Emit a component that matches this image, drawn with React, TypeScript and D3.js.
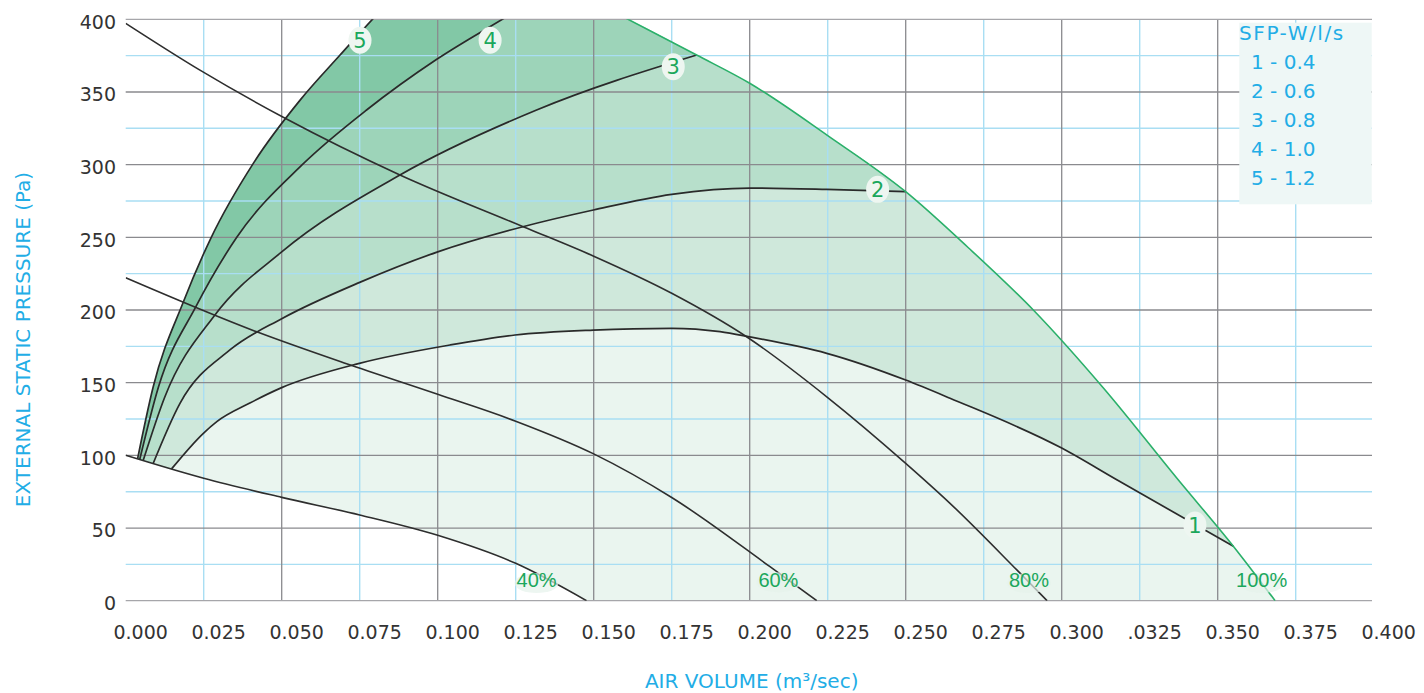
import React from "react";
import * as d3 from "d3";

type P = [number, number];

// ---- axes / ticks ----
const xGridMajor = [0.05, 0.1, 0.15, 0.2, 0.25, 0.3, 0.35];
const xGridMinor = [0.025, 0.075, 0.125, 0.175, 0.225, 0.275, 0.325, 0.375];
const xTickValues = [0, 0.025, 0.05, 0.075, 0.1, 0.125, 0.15, 0.175, 0.2, 0.225, 0.25, 0.275, 0.3, 0.325, 0.35, 0.375, 0.4];
const xTickLabels = ["0.000", "0.025", "0.050", "0.075", "0.100", "0.125", "0.150", "0.175", "0.200", "0.225", "0.250", "0.275", "0.300", ".0325", "0.350", "0.375", "0.400"];
const yGridMajor = [0, 50, 100, 150, 200, 250, 300, 350, 400];
const yGridMinor = [25, 75, 125, 175, 225, 275, 325, 375];
const yTickLabels = ["0", "50", "100", "150", "200", "250", "300", "350", "400"];

const legendTitle = "SFP-W/l/s";
const legendItems = ["1 - 0.4", "2 - 0.6", "3 - 0.8", "4 - 1.0", "5 - 1.2"];

// ---- fan speed curves (x: m3/s, y: Pa) ----
const speed40: P[] = [[0, 100], [0.025, 84.2], [0.05, 71.1], [0.075, 59], [0.1, 45], [0.125, 25.7], [0.1477, 0]];
const speed60: P[] = [[0, 222.2], [0.042, 185], [0.0708, 163], [0.1, 142], [0.125, 123.5], [0.15, 101], [0.175, 71], [0.2065, 23.4], [0.2215, 0]];
const speed80: P[] = [[0, 397.2], [0.0238, 365], [0.0511, 331.9], [0.0879, 292.9], [0.1274, 257.3], [0.15, 237], [0.175, 211.5], [0.199, 181.6], [0.2247, 140.3], [0.25, 94.5], [0.2642, 67], [0.2857, 21], [0.2953, 0]];
const speed100: P[] = [[0.12, 445], [0.161, 400], [0.183, 375.4], [0.2, 356], [0.225, 320], [0.25, 281.4], [0.27, 243], [0.2909, 200], [0.3135, 146], [0.3374, 83], [0.355, 37.5], [0.3684, 0]];

// ---- SFP curves ----
const sfp5: P[] = [[0.0038, 97.6], [0.0088, 147], [0.0185, 205.7], [0.0272, 249], [0.0409, 300.9], [0.0559, 344.4], [0.0687, 375.4], [0.0794, 400.7], [0.088, 420]];
const sfp4: P[] = [[0.0045, 97.1], [0.0105, 147], [0.0225, 202.3], [0.0356, 250], [0.0566, 300], [0.0772, 337.6], [0.0997, 372.5], [0.1221, 401.8], [0.136, 420]];
const sfp3: P[] = [[0.0056, 96.4], [0.0125, 140], [0.0286, 196.6], [0.05, 240], [0.0879, 292.9], [0.1317, 337.6], [0.183, 375.4]];
const sfp2: P[] = [[0.0088, 94.4], [0.0174, 135.8], [0.0334, 172.5], [0.05, 194], [0.075, 219], [0.1, 240], [0.1273, 257.3], [0.1499, 268.8], [0.175, 279.6], [0.2, 283.9], [0.2247, 283], [0.25, 281.4]];
const sfp1: P[] = [[0.0147, 90.7], [0.0249, 115.2], [0.0292, 123.2], [0.0398, 136], [0.05, 146.6], [0.0749, 163.3], [0.1039, 175.9], [0.1248, 182.8], [0.1499, 186.2], [0.175, 187.4], [0.1905, 185.1], [0.2, 181.5], [0.2247, 170.2], [0.25, 151.8], [0.2642, 139.3], [0.3, 105], [0.3178, 83], [0.355, 37.5]];

const sfpCurves = [sfp5, sfp4, sfp3, sfp2, sfp1];
const bandColors = ["#82c8a6", "#9dd4b9", "#b7dfcb", "#cfe8db", "#eaf5ef"];

const sfpLabelText = ["5", "4", "3", "2", "1"];
const sfpLabelX = [0.0751, 0.1168, 0.1755, 0.241, 0.3427];
const sfpLabelY = [385.6, 385.6, 367.4, 283, 52.1];

const pctLabelText = ["40%", "60%", "80%", "100%"];
const pctLabelX = [0.1317, 0.2092, 0.2895, 0.3641];
const pctLabelY = [14.2, 14.7, 14.2, 14.2];

const W = 1424;
const H = 693;

export default function App() {
  const x = d3.scaleLinear().domain([0, 0.4]).range([125.7, 1373.7]);
  const y = d3.scaleLinear().domain([0, 400]).range([600.7, 19.3]);
  const line = d3
    .line<P>()
    .x((d) => x(d[0]))
    .y((d) => y(d[1]))
    .curve(d3.curveMonotoneX);

  const cont = (pts: P[]) => (line(pts) || "").replace(/^M/, "L");

  const bandPath = (curve: P[]) => {
    const start = curve[0];
    const end = curve[curve.length - 1];
    const bPart: P[] = [end, ...speed100.filter((p) => p[0] > end[0])];
    const lowPart: P[] = [...speed40.filter((p) => p[0] > start[0])].reverse();
    lowPart.push(start);
    return (line(curve) || "") + cont(bPart) + cont(lowPart) + "Z";
  };

  const gridRight = 1372;
  const font = "'DejaVu Sans', 'Liberation Sans', sans-serif";
  const blue = "#22ade6";
  const green = "#1ba75c";

  return (
    <svg
      width={W}
      height={H}
      style={{ position: "absolute", left: 0, top: 0, display: "block", background: "#fff" }}
    >
      <defs>
        <clipPath id="plotClip">
          <rect x={x(0)} y={y(400)} width={x(0.4) - x(0)} height={y(0) - y(400)} />
        </clipPath>
      </defs>

      {/* filled bands */}
      <g clipPath="url(#plotClip)">
        {sfpCurves.map((c, i) => (
          <path key={"band" + i} d={bandPath(c)} fill={bandColors[i]} stroke="none" />
        ))}
      </g>

      {/* grid */}
      <g>
        {yGridMinor.map((v) => (
          <line key={"hm" + v} x1={x(0)} x2={gridRight} y1={y(v)} y2={y(v)} stroke="#a9def3" strokeWidth={1.4} />
        ))}
        {xGridMinor.map((v) => (
          <line key={"vm" + v} x1={x(v)} x2={x(v)} y1={y(0)} y2={y(400)} stroke="#a9def3" strokeWidth={1.4} />
        ))}
        {xGridMajor.map((v) => (
          <line key={"vM" + v} x1={x(v)} x2={x(v)} y1={y(0)} y2={y(400)} stroke="#8a8a8e" strokeWidth={1.3} />
        ))}
        {yGridMajor.map((v) => (
          <line key={"hM" + v} x1={x(0)} x2={gridRight} y1={y(v)} y2={y(v)} stroke={v === 400 || v === 0 ? "#a6a6aa" : "#8a8a8e"} strokeWidth={1.3} />
        ))}
      </g>

      {/* curves */}
      <g clipPath="url(#plotClip)" fill="none">
        {[speed40, speed60, speed80].map((c, i) => (
          <path key={"sp" + i} d={line(c) || ""} stroke="#2e2e2e" strokeWidth={1.6} />
        ))}
        {sfpCurves.map((c, i) => (
          <path key={"sfp" + i} d={line(c) || ""} stroke="#2a2a2a" strokeWidth={1.7} />
        ))}
        <path d={line(speed100) || ""} stroke="#2bb06a" strokeWidth={1.6} />
      </g>

      {/* curve labels */}
      <g fontFamily={font}>
        {sfpLabelText.map((t, i) => (
          <g key={"sl" + i}>
            <ellipse cx={x(sfpLabelX[i])} cy={y(sfpLabelY[i])} rx={11.5} ry={13.5} fill="#eef6f1" />
            <text
              x={x(sfpLabelX[i])}
              y={y(sfpLabelY[i]) + 7.6}
              textAnchor="middle"
              fontSize={21}
              fill={green}
            >
              {t}
            </text>
          </g>
        ))}
        {pctLabelText.map((t, i) => (
          <g key={"pl" + i}>
            <ellipse cx={x(pctLabelX[i])} cy={y(pctLabelY[i]) + 3} rx={22} ry={10} fill="#e6f2eb" opacity={0.7} />
            <text
              x={x(pctLabelX[i])}
              y={y(pctLabelY[i]) + 7.3}
              textAnchor="middle"
              fontSize={20}
              fontFamily="'Liberation Sans', sans-serif"
              fill={green}
            >
              {t}
            </text>
          </g>
        ))}
      </g>

      {/* legend */}
      <g fontFamily={font} fill={blue}>
        <rect x={1239.3} y={22.7} width={132.4} height={181.6} fill="#eef7f6" />
        <text x={1239} y={40} fontSize={20} letterSpacing={1.6}>
          {legendTitle}
        </text>
        {legendItems.map((t, i) => (
          <text key={"lg" + i} x={1251} y={68.5 + i * 29} fontSize={20}>
            {t}
          </text>
        ))}
      </g>

      {/* tick labels */}
      <g fontFamily={font} fontSize={19} fill="#333">
        {yGridMajor.map((v, i) => (
          <text key={"yl" + v} x={116} y={y(v) + 9.3} textAnchor="end">
            {yTickLabels[i]}
          </text>
        ))}
        {xTickValues.map((v, i) => (
          <text key={"xl" + i} x={x(v) + 15} y={639} textAnchor="middle">
            {xTickLabels[i]}
          </text>
        ))}
      </g>

      {/* axis titles */}
      <text x={751.7} y={687.5} textAnchor="middle" fontFamily={font} fontSize={20} fill={blue}>
        AIR VOLUME (m³/sec)
      </text>
      <text
        transform="translate(29.5,339.5) rotate(-90)"
        textAnchor="middle"
        fontFamily={font}
        fontSize={20}
        fill={blue}
      >
        EXTERNAL STATIC PRESSURE (Pa)
      </text>
    </svg>
  );
}
